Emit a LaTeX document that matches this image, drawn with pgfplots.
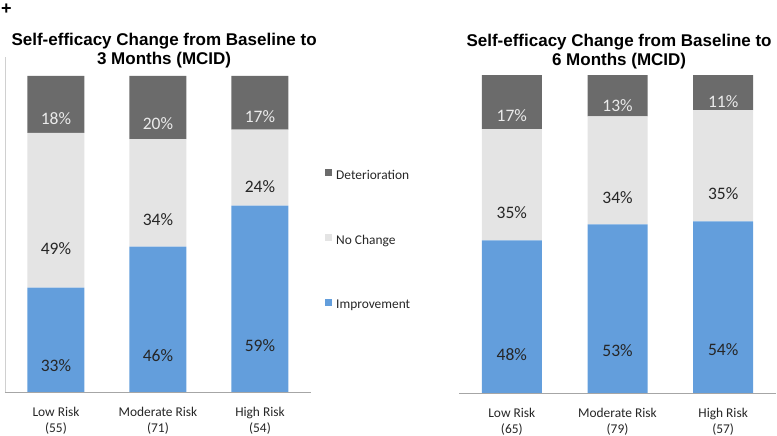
\documentclass[border=0pt]{standalone}
\usepackage{fontspec}
\setmainfont{Carlito}
\newfontfamily\arialfont{Liberation Sans}
\usepackage{pgfplots}
\pgfplotsset{compat=1.18}

\definecolor{detcol}{HTML}{6B6B6B}
\definecolor{nochcol}{HTML}{E4E4E4}
\definecolor{impcol}{HTML}{639EDC}
\definecolor{basegray}{HTML}{A6A6A6}
\definecolor{leftgray}{HTML}{D0D0D0}
\definecolor{labcol}{HTML}{262626}

% shared look of both panels
\pgfplotsset{
  riskbars/.style={
    ybar stacked,
    scale only axis,
    ymin=0, ymax=106,
    xmin=-0.5, xmax=2.5,
    xtick={0,1,2},
    ytick=\empty,
    xtick style={draw=none},
    axis x line*=bottom,
    axis y line*=left,
    x axis line style={draw=basegray, line width=0.8pt, -},
    clip=false,
    point meta=explicit,
    visualization depends on=rawy\as\rawy,
    nodes near coords={\pgfmathprintnumber[assume math mode=true]{\pgfplotspointmeta}\%},
    x tick label style={font=\fontsize{13.4}{16}\selectfont, align=center, text=labcol, yshift=-12pt},
    title style={font=\arialfont\bfseries\fontsize{17}{18.5}\selectfont, align=center, anchor=north},
  },
}

\begin{document}
\begin{tikzpicture}
\useasboundingbox (0pt,0pt) rectangle (777pt,436pt);
\node[font=\arialfont\bfseries\fontsize{18}{18}\selectfont, anchor=base, inner sep=0pt] at (6.5pt,421pt) {+};

% ---- 3 months ----
\begin{axis}[
  riskbars,
  at={(5pt,44pt)}, anchor=south west,
  width=306pt, height=335pt,
  bar width=57pt,
  y axis line style={draw=leftgray, line width=0.8pt, -},
  xticklabels={{Low Risk\\(55)},{Moderate Risk\\(71)},{High Risk\\(54)}},
  every node near coord/.append style={anchor=center, font=\fontsize{17.5}{17.5}\selectfont, yshift=-\rawy*0.7901pt},
  title={Self-efficacy Change from Baseline to\\3 Months (MCID)},
  title style={at={(axis description cs:0.52,1)}, yshift=21pt},
  reverse legend,
  legend image code/.code={\fill[#1] (0pt,-1pt) rectangle (7pt,6pt);},
  legend style={at={(axis description cs:1.036,0.675)}, anchor=north west,
    draw=none, fill=none, font=\fontsize{13.4}{16}\selectfont, row sep=50pt,
    text=labcol, nodes={inner xsep=4pt}},
  legend cell align=left,
]
\addplot[fill=impcol, draw=none, every node near coord/.append style={text=labcol}]
  coordinates {(0,33) [33] (1,46) [46] (2,59) [59]};
\addplot[fill=nochcol, draw=none, every node near coord/.append style={text=labcol}]
  coordinates {(0,49) [49] (1,34) [34] (2,24) [24]};
\addplot[fill=detcol, draw=none, every node near coord/.append style={text=white!92!black}]
  coordinates {(0,18) [18] (1,20) [20] (2,17) [17]};
\legend{Improvement, No Change, Deterioration}
\end{axis}

% ---- 6 months ----
\begin{axis}[
  riskbars,
  at={(459pt,43pt)}, anchor=south west,
  width=317pt, height=337pt,
  bar width=60pt,
  axis y line=none,
  xticklabels={{Low Risk\\(65)},{Moderate Risk\\(79)},{High Risk\\(57)}},
  every node near coord/.append style={anchor=center, font=\fontsize{17.5}{17.5}\selectfont, yshift=-\rawy*0.7948pt},
  title={Self-efficacy Change from Baseline to\\6 Months (MCID)},
  title style={at={(axis description cs:0.505,1)}, yshift=19pt},
]
\addplot[fill=impcol, draw=none, every node near coord/.append style={text=labcol}]
  coordinates {(0,48) [48] (1,53) [53] (2,54) [54]};
\addplot[fill=nochcol, draw=none, every node near coord/.append style={text=labcol}]
  coordinates {(0,35) [35] (1,34) [34] (2,35) [35]};
\addplot[fill=detcol, draw=none, every node near coord/.append style={text=white!92!black}]
  coordinates {(0,17) [17] (1,13) [13] (2,11) [11]};
\end{axis}
\end{tikzpicture}
\end{document}
